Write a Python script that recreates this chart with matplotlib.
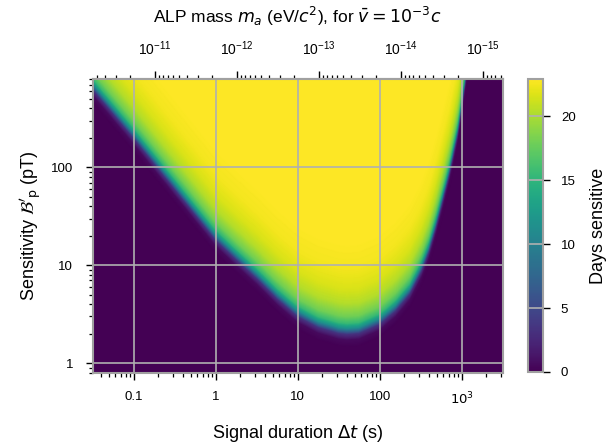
import numpy as np
import matplotlib
matplotlib.use('Agg')
import matplotlib.pyplot as plt
from matplotlib.ticker import FuncFormatter, FixedLocator, NullFormatter, LogLocator

plt.rcParams['font.family'] = ['Liberation Sans', 'DejaVu Sans']
plt.rcParams['mathtext.fontset'] = 'dejavusans'

# sensitivity threshold edge (mid-level of the colour band)
dt_edge = [0.0316, 0.1, 0.316, 1.0, 1.78, 3.16, 5.62, 10.0, 17.8, 31.6, 40.0, 56.2,
           100.0, 158.0, 234.0, 324.0, 400.0, 490.0, 590.0, 715.0, 900.0, 1100.0, 1410.0]
b_edge = [724.0, 229.0, 69.2, 20.9, 13.2, 8.5, 5.25, 3.47, 2.69, 2.34, 2.29, 2.34,
          2.88, 3.98, 5.89, 10.0, 15.8, 28.5, 52.5, 100.0, 251.0, 771.0, 4000.0]

# days sensitive vs. offset above the edge (decades of B)
prof_off = [-0.2, -0.12, -0.06, 0.0, 0.05, 0.12, 0.25, 0.4, 0.6, 0.9]
prof_days = [0.0, 0.6, 3.5, 11.5, 15.5, 18.0, 20.3, 21.6, 22.5, 22.9]

days_max = 22.9
mass_k = 1.81e-12  # eV s, top axis: m_a = k / dt

xlim = (10**-1.5, 10**3.5)
ylim = (0.8, 800)

x_ticks = [0.1, 1, 10, 100, 1000]
y_ticks = [1, 10, 100]
m_ticks = [1e-11, 1e-12, 1e-13, 1e-14, 1e-15]
cb_ticks = [0, 5, 10, 15, 20]

# build the grid
xl = np.linspace(np.log10(xlim[0]), np.log10(xlim[1]), 800)
yl = np.linspace(np.log10(ylim[0]), np.log10(ylim[1]), 600)
XL, YL = np.meshgrid(xl, yl)
edge = np.interp(XL, np.log10(dt_edge), np.log10(b_edge))
days = np.interp(YL - edge, prof_off, prof_days)

spine_c = '#a0a0a0'
grid_c = '#b0b0b0'

fig = plt.figure(figsize=(6.13, 4.43), dpi=100)
ax = fig.add_axes([0.1512, 0.1587, 0.6688, 0.663])
cax = fig.add_axes([0.862, 0.1603, 0.0235, 0.6614])

mesh = ax.pcolormesh(10**xl, 10**yl, days, cmap='viridis', vmin=0, vmax=days_max,
                     shading='gouraud', rasterized=True)
ax.set_xscale('log')
ax.set_yscale('log')
ax.set_xlim(*xlim)
ax.set_ylim(*ylim)

def fmt(v, pos):
    if v >= 1000:
        return r'$10^{%d}$' % round(np.log10(v))
    return '%g' % v

ax.xaxis.set_major_locator(FixedLocator(x_ticks))
ax.yaxis.set_major_locator(FixedLocator(y_ticks))
ax.xaxis.set_major_formatter(FuncFormatter(fmt))
ax.yaxis.set_major_formatter(FuncFormatter(fmt))

ax.grid(True, which='major', color=grid_c, lw=1.2)
for s in ax.spines.values():
    s.set_color(spine_c)
    s.set_linewidth(1.5)
ax.tick_params(which='major', length=5, width=1.0, pad=8, labelsize=9.5)
ax.tick_params(axis='y', which='major', pad=9)
ax.tick_params(which='minor', length=2.8, width=0.9)

ax.set_xlabel(r'Signal duration $\Delta t$ (s)', fontsize=13, labelpad=11)
ax.set_ylabel(r"Sensitivity $\mathcal{B}'_\mathrm{p}$ (pT)", fontsize=13, labelpad=5)

top = ax.secondary_xaxis('top', functions=(lambda t: mass_k / t, lambda m: mass_k / m))
top.xaxis.set_major_locator(FixedLocator(m_ticks))
top.xaxis.set_minor_locator(LogLocator(base=10, subs=np.arange(2, 10)))
top.xaxis.set_minor_formatter(NullFormatter())
top.spines['top'].set_color(spine_c)
top.spines['top'].set_linewidth(1.5)
top.tick_params(which='major', length=6, width=1.0, pad=9, labelsize=10)
top.tick_params(which='minor', length=3.2, width=0.9)
top.set_xlabel(r'ALP mass $m_a$ (eV/$c^2$), for $\bar{v} = 10^{-3}c$', fontsize=12.5, labelpad=12)

cb = fig.colorbar(mesh, cax=cax, ticks=cb_ticks)
cb.outline.set_edgecolor(spine_c)
cb.outline.set_linewidth(1.5)
for t in cb_ticks[1:]:
    cax.axhline(t, color=grid_c, lw=1.2)
cax.tick_params(length=5, width=1.0, pad=8, labelsize=9.5)
cb.set_label('Days sensitive', fontsize=13, labelpad=10)

fig.savefig('out.png', dpi=100)
